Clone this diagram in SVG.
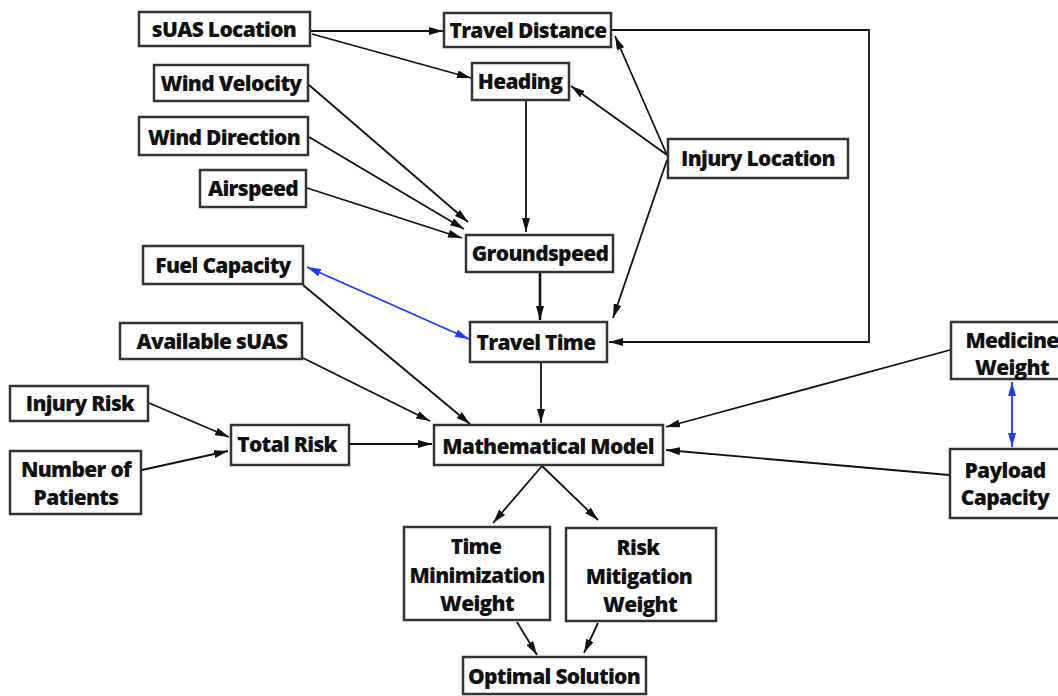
<svg xmlns="http://www.w3.org/2000/svg" width="1058" height="696" viewBox="0 0 1058 696">
<defs>
<style>
.n rect{fill:#fff;stroke:#333;stroke-width:2.5}
.n text{font-family:"Open Sans","Liberation Sans",sans-serif;font-weight:800;font-size:21px;letter-spacing:-0.7px;fill:#111;text-anchor:middle;dominant-baseline:central}
.e path{fill:none;stroke:#111;stroke-width:1.8}
.e .k{stroke-width:2.6}
.e .b{stroke:#1f3cff;stroke-width:1.8}
</style>
<marker id="a" viewBox="0 0 14 8" refX="14" refY="4" markerWidth="14" markerHeight="8" markerUnits="userSpaceOnUse" orient="auto"><path d="M0,0 L14,4 L0,8 Z" fill="#111"/></marker>
<marker id="bl" viewBox="0 0 14 8" refX="14" refY="4" markerWidth="14" markerHeight="8" markerUnits="userSpaceOnUse" orient="auto-start-reverse"><path d="M0,0 L14,4 L0,8 Z" fill="#1f3cff"/></marker>
</defs>
<rect width="1058" height="696" fill="#fff"/>
<g class="e" id="connectors">
<path d="M311,31 L443,31" marker-end="url(#a)"/>
<path d="M312,34 L471,78" marker-end="url(#a)"/>
<path d="M612,30 L869,30 L869,342 L609,342" marker-end="url(#a)"/>
<path d="M667,155 L615,36" marker-end="url(#a)"/>
<path d="M667,155 L571,86" marker-end="url(#a)"/>
<path d="M667,160 L613,318" marker-end="url(#a)"/>
<path d="M526,101 L526,232" marker-end="url(#a)"/>
<path d="M309,85 L468,222" marker-end="url(#a)"/>
<path d="M309,137 L464,229" marker-end="url(#a)"/>
<path d="M307,188 L462,238" marker-end="url(#a)"/>
<path class="k" d="M540,273 L540,320" marker-end="url(#a)"/>
<path class="b" d="M307,267 L469,339" marker-start="url(#bl)" marker-end="url(#bl)"/>
<path d="M303,285 L470,424" marker-end="url(#a)"/>
<path d="M303,358 L430,421" marker-end="url(#a)"/>
<path d="M541,363 L541,423" marker-end="url(#a)"/>
<path d="M149,403 L229,437" marker-end="url(#a)"/>
<path d="M142,470 L228,451" marker-end="url(#a)"/>
<path d="M350,444 L432,444" marker-end="url(#a)"/>
<path d="M950,350 L666,427" marker-end="url(#a)"/>
<path d="M949,475 L666,450" marker-end="url(#a)"/>
<path class="b" d="M1012,382 L1012,447" marker-start="url(#bl)" marker-end="url(#bl)"/>
<path d="M542,466 L493,523" marker-end="url(#a)"/>
<path d="M542,466 L598,520" marker-end="url(#a)"/>
<path d="M517,622 L537,655" marker-end="url(#a)"/>
<path d="M598,623 L584,653" marker-end="url(#a)"/>
</g>
<g class="n" id="suas-location"><rect x="139" y="12" width="171" height="34"/><text x="224" y="29">sUAS Location</text></g>
<g class="n" id="travel-distance"><rect x="444" y="13" width="167" height="34"/><text x="528" y="30">Travel Distance</text></g>
<g class="n" id="heading"><rect x="472" y="63" width="97" height="37"/><text x="520" y="81">Heading</text></g>
<g class="n" id="wind-velocity"><rect x="154" y="65" width="154" height="36"/><text x="231" y="83">Wind Velocity</text></g>
<g class="n" id="wind-direction"><rect x="139" y="117" width="169" height="38"/><text x="224" y="137">Wind Direction</text></g>
<g class="n" id="airspeed"><rect x="200" y="170" width="106" height="37"/><text x="253" y="188">Airspeed</text></g>
<g class="n" id="injury-location"><rect x="668" y="139" width="180" height="39"/><text x="758" y="158">Injury Location</text></g>
<g class="n" id="groundspeed"><rect x="466" y="235" width="147" height="37"/><text x="540" y="253">Groundspeed</text></g>
<g class="n" id="fuel-capacity"><rect x="143" y="246" width="160" height="38"/><text x="223" y="265">Fuel Capacity</text></g>
<g class="n" id="travel-time"><rect x="470" y="322" width="137" height="40"/><text x="536" y="342">Travel Time</text></g>
<g class="n" id="available-suas"><rect x="120" y="323" width="182" height="36"/><text x="212" y="341">Available sUAS</text></g>
<g class="n" id="medicine-weight"><rect x="951" y="322" width="120" height="57"/><text x="1012" y="340">Medicine</text><text x="1012" y="367">Weight</text></g>
<g class="n" id="injury-risk"><rect x="10" y="386" width="138" height="35"/><text x="80" y="403">Injury Risk</text></g>
<g class="n" id="total-risk"><rect x="231" y="425" width="118" height="40"/><text x="287" y="444">Total Risk</text></g>
<g class="n" id="mathematical-model"><rect x="434" y="425" width="229" height="40"/><text x="548" y="446">Mathematical Model</text></g>
<g class="n" id="number-of-patients"><rect x="10" y="451" width="131" height="63"/><text x="76" y="469">Number of</text><text x="76" y="497">Patients</text></g>
<g class="n" id="payload-capacity"><rect x="950" y="449" width="120" height="69"/><text x="1005" y="470">Payload</text><text x="1005" y="497">Capacity</text></g>
<g class="n" id="time-minimization-weight"><rect x="404" y="527" width="146" height="93"/><text x="476" y="546">Time</text><text x="477" y="575">Minimization</text><text x="477" y="603">Weight</text></g>
<g class="n" id="risk-mitigation-weight"><rect x="566" y="528" width="150" height="93"/><text x="638" y="547">Risk</text><text x="639" y="576">Mitigation</text><text x="640" y="604">Weight</text></g>
<g class="n" id="optimal-solution"><rect x="463" y="657" width="183" height="37"/><text x="554" y="676">Optimal Solution</text></g>
</svg>
